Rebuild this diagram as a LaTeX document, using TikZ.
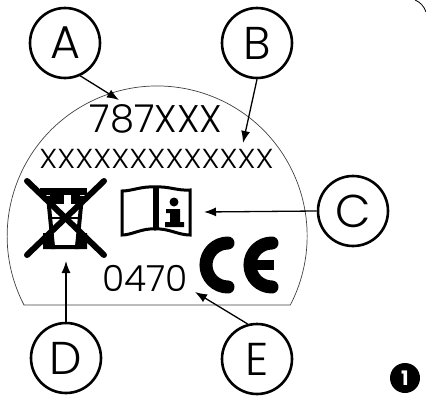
\documentclass[tikz,border=0pt]{standalone}
\usepackage{fontspec}
\setmainfont{Poppins}[UprightFont=* Light,BoldFont=* Bold]
\usetikzlibrary{positioning,arrows.meta}
\tikzset{
	callout/.style={draw, circle, line width=2.6pt, minimum size=70pt, inner sep=0pt, font=\fontsize{46}{46}\selectfont},
	pointer/.style={line width=1.3pt, -{Latex[length=12pt,width=9pt]}},
	plate/.style={line width=0.7pt, black!75},
	printed/.style={inner sep=0pt, font=\fontsize{38.5}{38.5}\selectfont},
}
\begin{document}
\begin{tikzpicture}[x=1pt,y=-1pt]
	\useasboundingbox (0,0) rectangle (426,405);
	%Label plate
	\draw[plate] (24,305) arc[start angle=207.4, end angle=-27.4, radius=150pt] -- cycle;
	%Frame corner
	\draw[line width=0.8pt] (415,0) .. controls (420,2) and (424,6) .. (426,12);
	%Printed text
	\node[printed] (code) at (156,119) {787XXX};
	\node[printed, xscale=1.12, font=\fontsize{27.5}{27.5}\selectfont] (serial) at (156.5,159) {XXXXXXXXXXXXX};
	\node[printed, font=\fontsize{36}{36}\selectfont] (number) at (145,278) {0470};
	%Crossed out bin
	\fill (40,188) rectangle (87,195);
	\fill (50,195) rectangle (64,204);
	\fill (71,195) rectangle (80,204);
	\draw[line width=4pt] (48,196) -- (53,247) -- (77,247) -- (82,196);
	\draw[line width=2.5pt] (50,218) -- (80,218);
	\fill (43,233) -- (53,233) -- (55,249) -- (43,249) -- cycle;
	\fill (87,233) -- (77,233) -- (75,249) -- (87,249) -- cycle;
	\draw[line width=6pt, line cap=round] (27,181) -- (104,255);
	\draw[line width=6pt, line cap=round] (104,181) -- (27,255);
	%Book
	\draw[line width=3pt, line join=miter] (122,191) .. controls (132,191) and (142,186) .. (155,187)
		.. controls (168,186) and (178,191) .. (190,190) -- (190,235)
		.. controls (178,235) and (168,228) .. (155,229)
		.. controls (142,228) and (132,235) .. (122,235) -- cycle;
	\draw[line width=5.5pt] (156,187) -- (156,229);
	\fill (174,202) circle[radius=4.5pt];
	\fill (166,209) -- (180,209) -- (180,222) -- (184,222) -- (184,227) -- (165,227) -- (165,222) -- (170,222) -- (170,213) -- (166,213) -- cycle;
	%CE mark
	\draw[line width=13pt, line cap=round] (228,243) arc[start angle=90, end angle=270, radius=22pt];
	\draw[line width=13pt, line cap=round] (272,243) arc[start angle=90, end angle=270, radius=22pt];
	\draw[line width=10pt] (256,265) -- (274,265);
	%Callouts
	\node[callout] (labelA) at (65,43) {A};
	\node[callout] (labelB) at (257,43) {B};
	\node[callout] (labelC) at (353,211) {C};
	\node[callout] (labelD) at (66,358) {D};
	\node[callout] (labelE) at (257,359) {E};
	\coordinate (tipA) at (119,100);
	\coordinate (tipB) at (243,143);
	\coordinate (tipC) at (204,212);
	\coordinate (tipD) at (66,261);
	\coordinate (tipE) at (195,292);
	\draw[pointer] (labelA.-65) -- (tipA);
	\draw[pointer] (labelB.south) -- (tipB);
	\draw[pointer] (labelC.west) -- (tipC);
	\draw[pointer] (labelD.north) -- (tipD);
	\draw[pointer] (labelE.105) -- (tipE);
	%Figure number
	\node[circle, fill=black, text=white, minimum size=30pt, inner sep=0pt, font=\fontsize{20}{20}\selectfont\bfseries] (figure) at (405,378) {1};
\end{tikzpicture}
\end{document}
